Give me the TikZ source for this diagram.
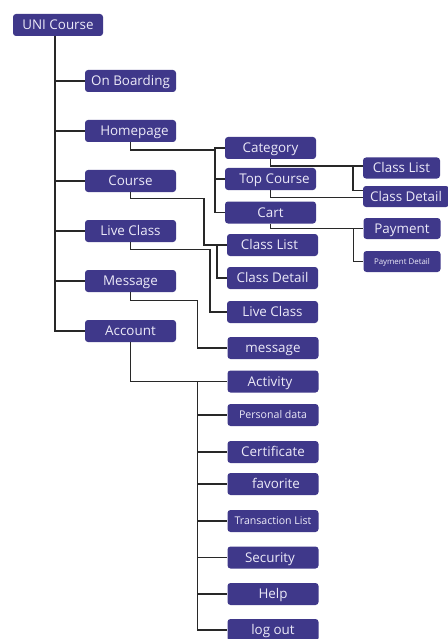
\documentclass[tikz,border=0pt]{standalone}
\usepackage{fontspec}
\setmainfont{Open Sans}
\definecolor{boxc}{RGB}{63,56,138}
\definecolor{txtc}{RGB}{236,234,248}
\definecolor{linec}{RGB}{40,40,40}
\tikzset{
  box/.style={draw=none, fill=boxc, rounded corners=3pt, text=txtc, minimum height=22pt, inner sep=0pt, text height=9.4pt, text depth=0pt, font=\fontsize{13.4}{14}\selectfont, anchor=center},
  lvA/.style={box, minimum width=91pt},
  lvB/.style={box, minimum width=91pt},
  lvC/.style={box, minimum width=77pt, minimum height=21pt},
  small/.style={font=\fontsize{10.6}{11}\selectfont, text height=7.6pt},
  tiny/.style={font=\fontsize{7.9}{9}\selectfont, text height=5.7pt},
  conn/.style={draw=linec, line width=1.4pt}
}
\begin{document}
\begin{tikzpicture}[x=1pt,y=-1pt]
\useasboundingbox (0,0) rectangle (447,639);
% root
\node[box, minimum width=90pt] (root) at (58,25) {UNI Course};
% level 1
\node[lvA] (onb) at (130.5,81) {On Boarding};
\node[lvA] (home) at (130.5,131) {\hspace*{8pt}Homepage};
\node[lvA] (course) at (130.5,181) {Course};
\node[lvA] (live) at (130.5,231) {Live Class};
\node[lvA] (msg) at (130.5,281) {Message};
\node[lvA] (acc) at (130.5,331) {Account};
% level 2 (homepage)
\node[lvB] (cat) at (270.5,148) {Category};
\node[lvB] (top) at (270.5,179) {\hspace*{8pt}Top Course};
\node[lvB] (cart) at (270.5,212.5) {Cart};
% level 2 (others)
\node[lvB] (cl2) at (272.5,245) {Class List\hspace*{6pt}};
\node[lvB] (cd2) at (272.5,278) {Class Detail};
\node[lvB] (lc2) at (272.5,312) {Live Class};
\node[lvB] (msg2) at (273,348) {message};
\node[lvB] (act) at (273,381.5) {Activity\hspace*{6pt}};
\node[lvB, small] (pd) at (273,415) {Personal data};
\node[lvB] (cert) at (273,452) {Certificate};
\node[lvB] (fav) at (273,484) {\hspace*{6pt}favorite};
\node[lvB, small] (tl) at (273,521) {Transaction List};
\node[lvB] (sec) at (273,557.5) {Security\hspace*{6pt}};
\node[lvB] (help) at (273,594) {Help};
\node[lvB] (lo) at (273,630) {log out};
% level 3
\node[lvC] (cl3) at (401.5,168) {Class List};
\node[lvC, minimum width=86pt] (cd3) at (406,196.5) {Class Detail};
\node[lvC] (pay) at (402,228.5) {Payment};
\node[lvC, tiny] (pdt) at (402,261.5) {Payment Detail};
% trunk
\draw[conn] ([xshift=-3pt]root.south) |- (acc.west);
\foreach \n in {onb,home,course,live,msg}{
  \draw[conn] ([xshift=-3pt]root.south |- \n.west) -- (\n.west);
}
% homepage
\draw[conn] (home.south) -- ++(0,8) -| ([xshift=-10pt]cat.west |- cat.west) -- (cat.west);
\draw[conn] ([xshift=-10pt]cat.west) |- (cart.west);
\draw[conn] ([xshift=-10pt]top.west) -- (top.west);
% course
\draw[conn] (course.south) -- ++(0,6) -| ([xshift=-23pt]cl2.west) -- (cl2.west);
\draw[conn] ([xshift=-10pt]cl2.west) |- (cd2.west);
% live class
\draw[conn] (live.south) -- ++(0,7) -| ([xshift=-17pt]lc2.west) -- (lc2.west);
% message
\draw[conn] (msg.south) -- ++(0,8) -| ([xshift=-30pt]msg2.west) -- (msg2.west);
% account
\draw[conn] (acc.south) |- (act.west);
\draw[conn] ([xshift=-30pt]act.west) |- (lo.west);
\foreach \n in {pd,cert,fav,tl,sec,help}{
  \draw[conn] ([xshift=-30pt]act.west |- \n.west) -- (\n.west);
}
% category / top course / cart
\draw[conn] (cat.south) |- ([yshift=2pt]cl3.west);
\draw[conn] ([xshift=-10pt,yshift=2pt]cl3.west) |- ([yshift=6pt]cd3.west);
\draw[conn] (top.south) |- ([yshift=-1pt]cd3.west);
\draw[conn] (cart.south) |- (pay.west);
\draw[conn] ([xshift=-10pt]pay.west) |- (pdt.west);
\end{tikzpicture}
\end{document}
